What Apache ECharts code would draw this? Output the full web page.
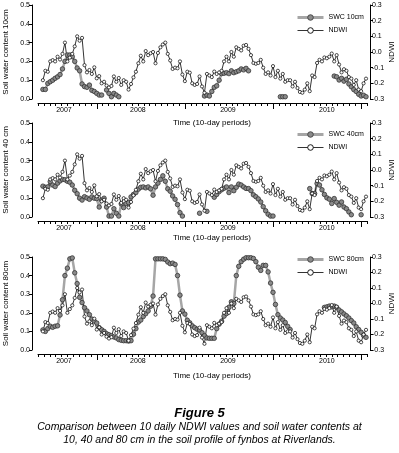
<!DOCTYPE html>
<html>
<head>
<meta charset="utf-8">
<script src="https://cdn.jsdelivr.net/npm/echarts@6/dist/echarts.min.js"></script>
<style>
  html, body { margin: 0; padding: 0; background: #fff; }
  #chart { width: 399px; height: 453px; }
</style>
</head>
<body>
<div id="chart"></div>
<script>
// 10-day periods, first value sits at period 2
var startPeriod = 2;
var yearLabels = ['2007', '2008', '2009', '2010'];
var yearLabelPos = [10.6, 40.8, 77.6, 118];
var yearTicks = [24, 60, 96, 132];

var ndwi = [
  -0.18, -0.12, -0.126, -0.06, -0.052, -0.06, -0.03, -0.048, -0.012, 0.06,
  -0.06, -0.036, -0.012, 0.036, 0.10, 0.072, 0.09, -0.084, -0.13, -0.115,
  -0.14, -0.098, -0.168, -0.154, -0.2, -0.19, -0.214, -0.226, -0.217, -0.156,
  -0.19, -0.166, -0.21, -0.18, -0.19, -0.24, -0.204, -0.162, -0.126, -0.072,
  -0.024, -0.06, 0.006, -0.02, -0.008, 0.0, -0.072, -0.006, 0.03, 0.048,
  0.06, -0.012, -0.054, -0.108, -0.1, -0.104, -0.06, -0.144, -0.186, -0.126,
  -0.132, -0.2, -0.21, -0.204, -0.156, -0.22, -0.26, -0.14, -0.15, -0.16,
  -0.125, -0.14, -0.13, -0.12, -0.06, -0.03, -0.06, 0.0, -0.03, 0.03,
  0.02, 0.01, 0.04, 0.045, 0.02, -0.02, -0.07, -0.075, -0.07, -0.05,
  -0.1, -0.14, -0.13, -0.15, -0.09, -0.16, -0.12, -0.17, -0.14, -0.19,
  -0.18, -0.18, -0.22, -0.19, -0.23, -0.255, -0.26, -0.24, -0.2, -0.25,
  -0.15, -0.16, -0.07, -0.05, -0.06, -0.035, -0.04, -0.03, -0.01, -0.06,
  -0.02, -0.08, -0.13, -0.11, -0.12, -0.16, -0.17, -0.21, -0.18, -0.24,
  -0.25, -0.2, -0.17
];

var swc10 = [
  0.051, 0.051, 0.083, 0.092, 0.1, 0.11, 0.118, 0.13, 0.16, 0.2,
  0.234, 0.234, 0.225, 0.2, 0.165, 0.15, 0.08, 0.066, 0.062, 0.074,
  0.046, 0.04, 0.03, 0.021, 0.021, null, 0.048, 0.03, 0.012, 0.03,
  0.021, 0.012, null, null, null, null, null, null, null, null,
  null, null, null, null, null, null, null, null, null, null,
  null, null, null, null, null, null, null, null, null, null,
  null, null, null, null, null, null, 0.016, 0.021, 0.016, 0.04,
  0.062, 0.07, 0.1, 0.135, 0.137, 0.14, 0.135, 0.15, 0.14, 0.145,
  0.15, 0.16, 0.155, 0.163, 0.15, null, null, null, null, null,
  null, null, null, null, null, null, null, 0.012, 0.012, 0.012,
  null, null, null, null, null, null, null, null, null, null,
  null, null, null, null, null, null, null, null, null, 0.122,
  0.118, 0.101, 0.11, 0.095, 0.105, 0.08, 0.065, 0.05, 0.04, 0.025,
  0.016, 0.02, 0.012
];

var swc40 = [
  0.164, 0.158, 0.16, 0.188, 0.17, 0.162, 0.18, 0.192, 0.2, 0.198,
  0.19, 0.185, 0.17, 0.142, 0.124, 0.1, 0.09, 0.108, 0.101, 0.094,
  0.107, 0.1, 0.098, 0.053, 0.09, 0.1, 0.053, 0.005, 0.005, 0.044,
  0.02, 0.005, 0.07, 0.05, 0.071, 0.077, 0.107, 0.12, 0.13, 0.148,
  0.158, 0.16, 0.155, 0.16, 0.15, 0.116, 0.16, 0.18, 0.2, 0.219,
  0.19, 0.15, 0.137, 0.112, 0.094, 0.066, 0.023, 0.005, null, null,
  null, null, null, null, 0.02, null, null, 0.03, null, null,
  0.105, 0.12, 0.135, 0.145, 0.153, 0.16, 0.13, 0.16, 0.14, 0.158,
  0.175, 0.17, 0.16, 0.152, 0.151, 0.14, 0.118, 0.108, 0.096, 0.08,
  0.055, 0.033, 0.015, 0.005, 0.005, null, null, null, null, null,
  null, null, null, null, null, null, null, null, null, 0.151,
  0.125, 0.125, 0.178, 0.17, 0.145, 0.12, 0.102, 0.095, 0.072, 0.098,
  0.078, 0.063, 0.08, 0.053, 0.044, 0.027, 0.012, null, null, null,
  0.012, null, null
];

var swc80 = [
  0.108, 0.1, 0.115, 0.128, 0.122, 0.128, 0.13, 0.188, 0.27, 0.4,
  0.44, 0.49, 0.495, 0.415, 0.357, 0.283, 0.255, 0.227, 0.21, 0.19,
  0.166, 0.155, 0.145, 0.12, 0.109, 0.1, 0.088, 0.082, 0.077, 0.07,
  0.065, 0.056, 0.052, 0.05, 0.05, 0.048, 0.05, 0.085, 0.115, 0.15,
  0.161, 0.18, 0.195, 0.21, 0.235, 0.29, 0.49, 0.49, 0.49, 0.49,
  0.487, 0.473, 0.464, 0.467, 0.46, 0.4, 0.295, 0.21, 0.193, 0.16,
  0.146, 0.13, 0.12, 0.112, 0.107, 0.093, 0.077, 0.065, 0.063, 0.063,
  0.063, 0.115, 0.139, 0.155, 0.182, 0.196, 0.23, 0.259, 0.25, 0.4,
  0.45, 0.475, 0.488, 0.496, 0.496, 0.496, 0.492, 0.475, 0.445, 0.428,
  0.455, 0.455, 0.42, 0.36, 0.31, 0.245, 0.19, 0.172, 0.161, 0.148,
  0.127, 0.11, null, null, null, null, null, null, null, null,
  null, null, null, null, null, 0.229, 0.232, 0.236, 0.232, 0.236,
  0.229, 0.215, 0.205, 0.194, 0.184, 0.172, 0.158, 0.145, 0.125, 0.11,
  0.095, 0.078, 0.068
];

var font = '"Liberation Sans", Arial, sans-serif';

function toPairs(arr) {
	return arr.map(function(v, k) {
		return [startPeriod + k, v == null ? '-' : v];
	});
}

var panels = [
	{ top: 5, height: 94, swc: swc10, name: 'SWC 10cm', yName: 'Soil water content 10cm', legendTop: 9, titleY: 123 },
	{ top: 123, height: 94, swc: swc40, name: 'SWC 40cm', yName: 'Soil water content 40 cm', legendTop: 126, titleY: 238 },
	{ top: 257, height: 93, swc: swc80, name: 'SWC 80cm', yName: 'Soil water content 80cm', legendTop: 251, titleY: 376 }
];

var grid = [], xAxis = [], yAxis = [], series = [], legend = [], graphic = [];

panels.forEach(function(p, k) {
	grid.push({ left: 38, width: 329, top: p.top, height: p.height, outerBoundsMode: 'none', containLabel: false });

	// minor ticks
	xAxis.push({
		type: 'value', gridIndex: k, min: 0, max: 134.4, interval: 2.4,
		position: 'bottom', offset: 4,
		axisLine: { onZero: false, lineStyle: { color: '#000', width: 1 } },
		axisTick: { length: 3, lineStyle: { color: '#000' } },
		axisLabel: { show: false },
		splitLine: { show: false }
	});
	// year ticks and labels
	xAxis.push({
		type: 'value', gridIndex: k, min: 0, max: 134.4,
		position: 'bottom', offset: 4,
		axisLine: { show: false, onZero: false },
		axisTick: { customValues: yearTicks, length: 6, lineStyle: { color: '#000' } },
		axisLabel: {
			customValues: yearLabelPos, margin: 4,
			fontSize: 7, color: '#000', fontFamily: font,
			formatter: function(v) {
				var n = yearLabelPos.indexOf(v);
				return n >= 0 ? yearLabels[n] : '';
			}
		},
		splitLine: { show: false }
	});

	yAxis.push({
		type: 'value', gridIndex: k, min: 0, max: 0.5, interval: 0.1,
		position: 'left', offset: 6,
		name: p.yName, nameLocation: 'middle', nameRotate: 90, nameGap: 21,
		nameTextStyle: { fontSize: 8, color: '#000', fontFamily: font },
		axisLine: { show: true, onZero: false, lineStyle: { color: '#000' } },
		axisTick: { show: true, length: 3, lineStyle: { color: '#000' } },
		axisLabel: { fontSize: 7, color: '#000', fontFamily: font, margin: 2,
			formatter: function(v) { return v.toFixed(1); } },
		splitLine: { show: false }
	});
	yAxis.push({
		type: 'value', gridIndex: k, min: -0.3, max: 0.3, interval: 0.1,
		position: 'right', offset: 3,
		axisLine: { show: true, onZero: false, lineStyle: { color: '#000' } },
		axisTick: { show: true, length: 3, lineStyle: { color: '#000' } },
		axisLabel: { fontSize: 7, color: '#000', fontFamily: font, margin: 2,
			formatter: function(v) { return v.toFixed(1); } },
		splitLine: { show: false }
	});

	series.push({
		name: p.name, type: 'line',
		xAxisIndex: k * 2, yAxisIndex: k * 2,
		data: toPairs(p.swc),
		symbol: 'circle', symbolSize: 4.5, showSymbol: true,
		lineStyle: { color: '#a6a6a6', width: 2.5 },
		itemStyle: { color: '#8a8a8a', borderColor: '#333', borderWidth: 0.8 },
		animation: false
	});
	series.push({
		name: 'NDWI', type: 'line',
		xAxisIndex: k * 2, yAxisIndex: k * 2 + 1,
		data: toPairs(ndwi),
		symbol: 'circle', symbolSize: 3.2, showSymbol: true,
		lineStyle: { color: '#000', width: 0.8 },
		itemStyle: { color: '#fff', borderColor: '#000', borderWidth: 0.7 },
		animation: false
	});

	legend.push({
		orient: 'vertical', left: 291, top: p.legendTop,
		itemWidth: 26, itemHeight: 7, itemGap: 6,
		textStyle: { fontSize: 7, color: '#000', fontFamily: font },
		data: [
			{ name: p.name,
				itemStyle: { color: '#8a8a8a', borderColor: '#333', borderWidth: 0.8 },
				lineStyle: { color: '#a6a6a6', width: 3 } },
			{ name: 'NDWI',
				itemStyle: { color: '#fff', borderColor: '#000', borderWidth: 0.9 },
				lineStyle: { color: '#000', width: 0.8 } }
		],
		selectedMode: false
	});

	graphic.push({
		type: 'text', x: 212, y: p.titleY,
		style: { text: 'Time (10-day periods)', align: 'center', verticalAlign: 'middle',
			font: '8px ' + font, fill: '#000' }
	});
	// right axis title, reads top to bottom
	graphic.push({
		type: 'text', x: 392, y: p.top + p.height / 2, rotation: Math.PI / 2,
		style: { text: 'NDWI', align: 'center', verticalAlign: 'middle',
			font: '8px ' + font, fill: '#000' }
	});
});

graphic.push({
	type: 'text', x: 199.5, y: 413,
	style: { text: 'Figure 5', align: 'center', verticalAlign: 'middle',
		font: 'italic bold 13px ' + font, fill: '#000' }
});
graphic.push({
	type: 'text', x: 199.5, y: 427,
	style: { text: 'Comparison between 10 daily NDWI values and soil water contents at', align: 'center', verticalAlign: 'middle',
		font: 'italic 10.5px ' + font, fill: '#000' }
});
graphic.push({
	type: 'text', x: 199.5, y: 440,
	style: { text: '10, 40 and 80 cm in the soil profile of fynbos at Riverlands.', align: 'center', verticalAlign: 'middle',
		font: 'italic 10.5px ' + font, fill: '#000' }
});

var myChart = echarts.init(document.getElementById('chart'));
var option = {
	backgroundColor: '#fff',
	animation: false,
	grid: grid,
	xAxis: xAxis,
	yAxis: yAxis,
	legend: legend,
	series: series,
	graphic: graphic
};
myChart.setOption(option);
</script>
</body>
</html>
